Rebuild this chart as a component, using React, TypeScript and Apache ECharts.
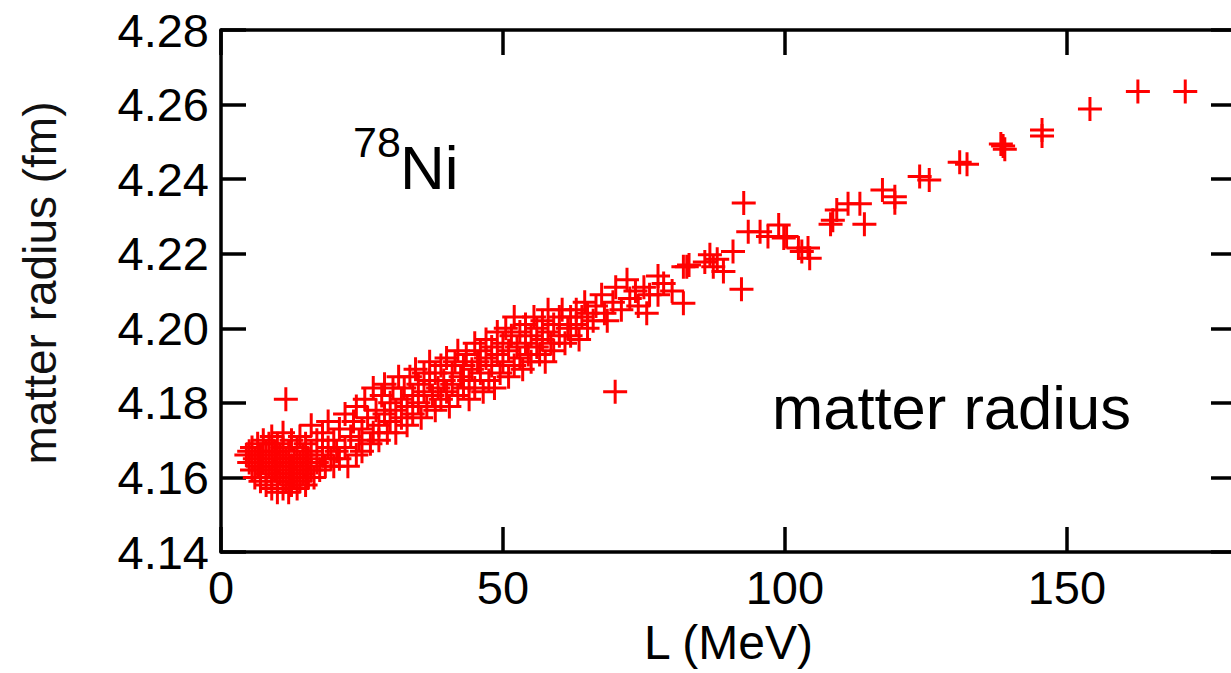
import React, { useEffect, useRef } from "react";
import * as echarts from "echarts";

const xTicks = [0, 50, 100, 150];
const yTicks = [4.14, 4.16, 4.18, 4.2, 4.22, 4.24, 4.26, 4.28];

// L (MeV), matter radius (fm)
const blobPoints: [number, number][] = [
  [4.5,4.166],[5,4.164],[5,4.167],[5.5,4.162],[5.5,4.168],[6,4.160],[6,4.165],[6.5,4.163],[6.5,4.169],
  [7,4.159],[7,4.162],[7,4.166],[7.5,4.164],[7.5,4.170],[8,4.158],[8,4.161],[8,4.167],[8.5,4.163],[8.5,4.169],
  [9,4.157],[9,4.160],[9,4.165],[9,4.171],[9.5,4.162],[9.5,4.167],[10,4.156],[10,4.159],[10,4.164],[10,4.169],
  [10.5,4.161],[10.5,4.166],[11,4.157],[11,4.163],[11,4.168],[11,4.172],[11.5,4.159],[11.5,4.165],[12,4.156],
  [12,4.161],[12,4.167],[12.5,4.158],[12.5,4.163],[12.5,4.170],[13,4.160],[13,4.165],[13.5,4.157],[13.5,4.162],
  [13.5,4.168],[14,4.159],[14,4.164],[14,4.171],[14.5,4.161],[14.5,4.166],[15,4.158],[15,4.163],[15,4.169],
  [15.5,4.160],[15.5,4.165],[16,4.162],[16,4.167],[16,4.174],[16.5,4.160],[17,4.164],[17,4.170],[17.5,4.162],
  [18,4.166],[18,4.172],[18.5,4.163],[19,4.168],[19,4.175],[19.5,4.165],[20,4.163],[20,4.170],[20.5,4.167],
  [21,4.173],[21,4.165],[11.5,4.181]
];

const bandPoints: [number, number][] = [
  [22,4.168],[22,4.177],[22.5,4.163],[23,4.171],[23.5,4.175],[24,4.166],[24,4.179],[24.5,4.170],[25,4.173],
  [25,4.167],[25.5,4.181],[26,4.176],[26.5,4.169],[27,4.172],[27,4.184],[27.5,4.178],[28,4.174],[28,4.170],
  [28.5,4.182],[29,4.177],[29,4.185],[29.5,4.172],[30,4.180],[30,4.175],[30.5,4.184],[31,4.178],[31,4.172],
  [31.5,4.187],[32,4.181],[32,4.176],[32.5,4.184],[33,4.179],[33,4.174],[33.5,4.187],[34,4.182],[34,4.177],
  [34.5,4.189],[35,4.185],[35,4.180],[35.5,4.176],[36,4.183],[36,4.188],[36.5,4.179],[37,4.186],[37,4.191],
  [37.5,4.182],[38,4.178],[38,4.188],[38.5,4.184],[39,4.190],[39,4.181],[39.5,4.186],[40,4.192],[40,4.183],
  [40.5,4.179],[41,4.188],[41,4.185],[41.5,4.191],[42,4.182],[42,4.194],[42.5,4.187],[43,4.184],[43,4.190],
  [43.5,4.193],[44,4.186],[44,4.181],[44.5,4.189],[45,4.196],[45,4.184],[45.5,4.191],[46,4.188],[46,4.194],
  [46.5,4.183],[47,4.192],[47,4.197],[47.5,4.186],[48,4.190],[48,4.195],[48.5,4.184],[49,4.193],[49,4.199],
  [49.5,4.188],[50,4.191],[50,4.196]
];

const midPoints: [number, number][] = [
  [50.5,4.200],[51,4.187],[51,4.194],[51.5,4.198],[52,4.190],[52,4.203],[52.5,4.195],[53,4.192],[53,4.199],
  [53.5,4.189],[54,4.196],[54,4.201],[54.5,4.193],[55,4.198],[55,4.191],[55.5,4.203],[56,4.195],[56,4.200],
  [56.5,4.193],[57,4.202],[57,4.197],[57.5,4.191],[58,4.199],[58,4.205],[58.5,4.196],[59,4.201],[59,4.194],
  [60,4.198],[60,4.203],[60.5,4.205],[61,4.196],[61.5,4.200],[62,4.203],[62,4.198],[63,4.205],[63,4.201],
  [63.5,4.197],[64,4.203],[64.5,4.207],[65,4.200],[65,4.204],[66,4.202],[66.5,4.206],[67.5,4.209],[68,4.204],
  [68.5,4.202],[69.5,4.207],[70,4.211],[71,4.205],[72,4.213],[72.5,4.208],[73.5,4.210],[74,4.206],[75,4.211],
  [75.5,4.204],[76,4.209],[77.5,4.214],[77.5,4.209],[78.5,4.212],[80,4.210],[69.9,4.183]
];

const highPoints: [number, number][] = [
  [82,4.2165],[82.6,4.2165],[82,4.2067],[83,4.2170],[85.8,4.2178],[86.7,4.2197],[87.3,4.2165],[88,4.2185],
  [89.1,4.2152],[90.8,4.2206],[92.3,4.2105],[92.7,4.2336],
  [93.5,4.2259],[95.6,4.2259],[97.0,4.2246],[98.9,4.2277],[99.8,4.2242],[100.3,4.2246],[102.4,4.2215],
  [103.0,4.2206],[104.1,4.2215],[104.4,4.2188],
  [108.1,4.2279],[108.5,4.2290],[109.2,4.2317],[111.2,4.2334],[113.3,4.2334],[114.1,4.2279],[117.3,4.2371],
  [119.5,4.2353],[119.5,4.2337],
  [123.9,4.2407],[125.6,4.2398],[131.0,4.2445],[132.3,4.2440],[138.3,4.2494],[138.7,4.2489],[139.0,4.2480],
  [145.6,4.2532],[145.6,4.2516],[154.1,4.2588],[162.6,4.2635],[171.0,4.2635]
];

const FONT = '"Liberation Sans", Arial, Helvetica, sans-serif';
const PLUS = "path://M10.5,0 h3 v10.5 h10.5 v3 h-10.5 v10.5 h-3 v-10.5 h-10.5 v-3 h10.5 z";

function tick() {
  return { show: true, inside: true, length: 25, lineStyle: { color: "#000", width: 3.5 } };
}
function line() {
  return { show: true, onZero: false, lineStyle: { color: "#000", width: 3.5 } };
}

export default function App() {
  const ref = useRef<HTMLDivElement>(null);
  useEffect(() => {
    if (!ref.current) return;
    const chart = echarts.init(ref.current, undefined, { renderer: "svg" });
    const data = [...blobPoints, ...bandPoints, ...midPoints, ...highPoints];
    chart.setOption({
      animation: false,
      backgroundColor: "#fff",
      grid: {
        left: 221, top: 30, width: 1015, height: 522, containLabel: false,
        outerBoundsMode: "none",
      },
      xAxis: [
        {
          type: "value", position: "bottom", min: 0, max: 180, interval: 50,
          axisLine: line(), axisTick: tick(), splitLine: { show: false },
          axisLabel: {
            fontFamily: FONT, fontSize: 47, color: "#000", margin: 12, showMaxLabel: false,
            formatter: (v: number) => (xTicks.includes(v) ? String(v) : ""),
          },
          name: "L (MeV)", nameLocation: "middle", nameGap: 66,
          nameTextStyle: { fontFamily: FONT, fontSize: 48, color: "#000", verticalAlign: "top" },
        },
        {
          type: "value", position: "top", min: 0, max: 180, interval: 50,
          axisLine: line(), axisTick: tick(), axisLabel: { show: false }, splitLine: { show: false },
        },
      ],
      yAxis: [
        {
          type: "value", position: "left", min: 4.14, max: 4.28, interval: 0.02,
          axisLine: line(), axisTick: tick(), splitLine: { show: false },
          axisLabel: {
            fontFamily: FONT, fontSize: 47, color: "#000", margin: 12,
            formatter: (v: number) => {
              const t = yTicks.find((y) => Math.abs(y - v) < 1e-6);
              return t !== undefined ? t.toFixed(2) : "";
            },
          },
        },
        {
          type: "value", position: "right", min: 4.14, max: 4.28, interval: 0.02,
          axisLine: line(), axisTick: tick(), axisLabel: { show: false }, splitLine: { show: false },
        },
      ],
      graphic: [
        {
          type: "text", x: 40, y: 283, rotation: Math.PI / 2,
          style: { text: "matter radius (fm)", fontFamily: FONT, fontSize: 46, fill: "#111",
            textAlign: "center", textVerticalAlign: "middle" },
        },
        {
          type: "text", x: 353, y: 120,
          style: { text: "78", fontFamily: FONT, fontSize: 43, fill: "#000", textAlign: "left", textVerticalAlign: "top" },
        },
        {
          type: "text", x: 400, y: 136,
          style: { text: "Ni", fontFamily: FONT, fontSize: 62, fill: "#000", textAlign: "left", textVerticalAlign: "top" },
        },
        {
          type: "text", x: 772, y: 376,
          style: { text: "matter radius", fontFamily: FONT, fontSize: 61.5, fill: "#000", textAlign: "left", textVerticalAlign: "top" },
        },
      ],
      series: [
        {
          type: "scatter",
          data,
          symbol: PLUS,
          symbolSize: 24,
          itemStyle: { color: "#ff0000", opacity: 1 },
          emphasis: { disabled: true },
        },
      ],
    });
    return () => chart.dispose();
  }, []);
  return (
    <div
      ref={ref}
      style={{ position: "fixed", left: 0, top: 0, width: 1231, height: 673, background: "#fff" }}
    />
  );
}
